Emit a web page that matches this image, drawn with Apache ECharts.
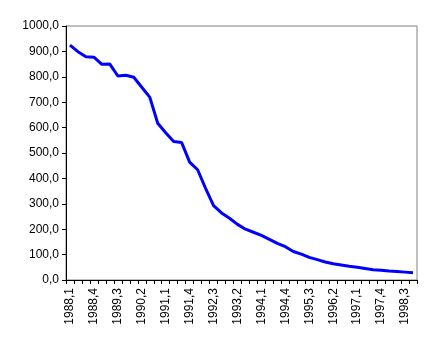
<!DOCTYPE html>
<html>
<head>
<meta charset="utf-8">
<script src="https://cdn.jsdelivr.net/npm/echarts@6/dist/echarts.min.js"></script>
<style>html,body{margin:0;padding:0;background:#fff;}#c{width:432px;height:344px;}</style>
</head>
<body>
<div id="c"></div>
<script>
var categories = [
  "1988,1","1988,2","1988,3","1988,4","1989,1","1989,2","1989,3","1989,4",
  "1990,1","1990,2","1990,3","1990,4","1991,1","1991,2","1991,3","1991,4",
  "1992,1","1992,2","1992,3","1992,4","1993,1","1993,2","1993,3","1993,4",
  "1994,1","1994,2","1994,3","1994,4","1995,1","1995,2","1995,3","1995,4",
  "1996,1","1996,2","1996,3","1996,4","1997,1","1997,2","1997,3","1997,4",
  "1998,1","1998,2","1998,3","1998,4"
];
var values = [
  925, 899, 879, 877, 849, 850, 803, 806,
  798, 759, 720, 617, 580, 545, 541, 464,
  434, 361, 293, 264, 243, 219, 200, 188,
  176, 160, 144, 131, 112, 102, 89, 80,
  71, 64, 59, 54, 50, 45, 40, 38,
  35, 33, 31, 29
];
var yMin = 0, yMax = 1000, yStep = 100;

var chart = echarts.init(document.getElementById('c'), null, {renderer: 'canvas'});
var font = 'Liberation Sans, Arial, sans-serif';
chart.setOption({
  animation: false,
  backgroundColor: '#ffffff',
  grid: {left: 66, right: 15, top: 26, bottom: 64, show: true, borderColor: '#808080', borderWidth: 1, backgroundColor: 'transparent'},
  xAxis: {
    type: 'category',
    data: categories,
    boundaryGap: true,
    axisLine: {lineStyle: {color: '#000', width: 1}},
    axisTick: {show: true, interval: 0, length: 4, lineStyle: {color: '#000'}},
    axisLabel: {interval: 2, rotate: 90, color: '#000', fontSize: 12, fontFamily: font, margin: 8},
    splitLine: {show: false}
  },
  yAxis: {
    type: 'value',
    min: yMin, max: yMax, interval: yStep,
    axisLine: {show: true, lineStyle: {color: '#000', width: 1}},
    axisTick: {show: true, length: 4, lineStyle: {color: '#000'}},
    axisLabel: {color: '#000', fontSize: 12, fontFamily: font, margin: 7,
      formatter: function (v) { return v.toFixed(1).replace('.', ','); }},
    splitLine: {show: false}
  },
  series: [{
    type: 'line',
    data: values,
    symbol: 'none',
    lineStyle: {color: '#0000ff', width: 3},
    itemStyle: {color: '#0000ff'}
  }]
});
</script>
</body>
</html>
